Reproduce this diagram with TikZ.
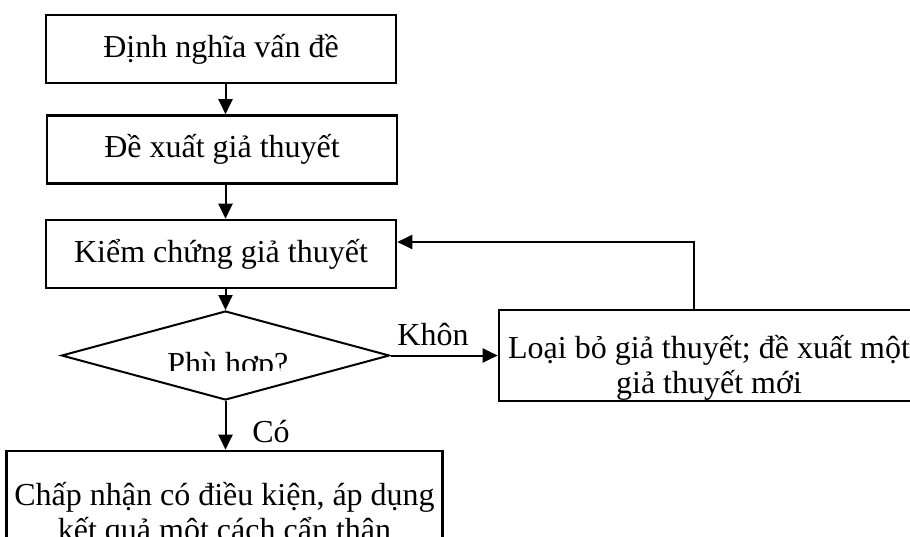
\documentclass[tikz,border=0pt]{standalone}
\usepackage{fontspec}
\setmainfont{Liberation Serif}
\usetikzlibrary{shapes.geometric,arrows.meta,positioning,calc}

\tikzset{
    stepBox/.style={
        rectangle,
        draw,
        line width=1.3pt,
        minimum width=175pt,
        minimum height=34pt,
        inner sep=4pt,
        align=center,
        font=\fontsize{16}{17.5}\selectfont
    },
    decisionBox/.style={
        diamond,
        draw,
        line width=1pt,
        minimum width=164pt,
        minimum height=44.5pt,
        inner sep=0pt
    },
    flowLabel/.style={font=\fontsize{16}{17.5}\selectfont, inner sep=0pt},
    flowArrow/.style={-{Triangle[length=7.5pt,width=7pt]}, line width=1pt}
}

\begin{document}
\begin{tikzpicture}[x=0.5pt, y=-0.5pt]
\useasboundingbox (0,0) rectangle (910,536);
\clip (0,0) rectangle (910,536);

% --- Main column ---
\node[stepBox] (define) at (221,49) {Định nghĩa vấn đề};
\node[stepBox] (propose) at (222,149.5) {Đề xuất giả thuyết};
\node[stepBox] (verify) at (221,254) {Kiểm chứng giả thuyết};
\node[decisionBox] (match) at (225.5,355.5) {};
\node[stepBox, minimum width=211.5pt, minimum height=63.5pt, text height=29.5pt, text depth=4pt] (accept) at (224.5,514.5)
     {Chấp nhận có điều kiện, áp dụng\\kết quả một cách cẩn thận};

% --- Reject branch ---
\node[stepBox, minimum width=210pt, minimum height=45.5pt, text height=37.5pt, text depth=0pt] (reject) at (709,355.5)
     {Loại bỏ giả thuyết; đề xuất một\\giả thuyết mới};
\coordinate (loopTop) at (694,242);

% decision text, cut off at the bottom
\begin{scope}
    \clip (0,300) rectangle (910,370);
    \node[flowLabel, anchor=base west] (matchText) at (167,374) {Phù hợp?};
\end{scope}

% --- Arrows ---
\draw[flowArrow] (define.south -| match) -- (propose.north -| match);
\draw[flowArrow] (propose.south -| match) -- (verify.north -| match);
\draw[flowArrow] (verify.south -| match) -- (match.north);
\draw[flowArrow] (match.south) -- (accept.north -| match);
\draw[flowArrow] (match.east) -- (reject.west);
\draw[flowArrow] (reject.north -| loopTop) -- (loopTop) -- (loopTop -| verify.east);

% branch labels
\node[flowLabel, anchor=base west] (noLabel) at (397,345) {Khôn};
\node[flowLabel, anchor=base west] (yesLabel) at (252,442) {Có};

\end{tikzpicture}
\end{document}
